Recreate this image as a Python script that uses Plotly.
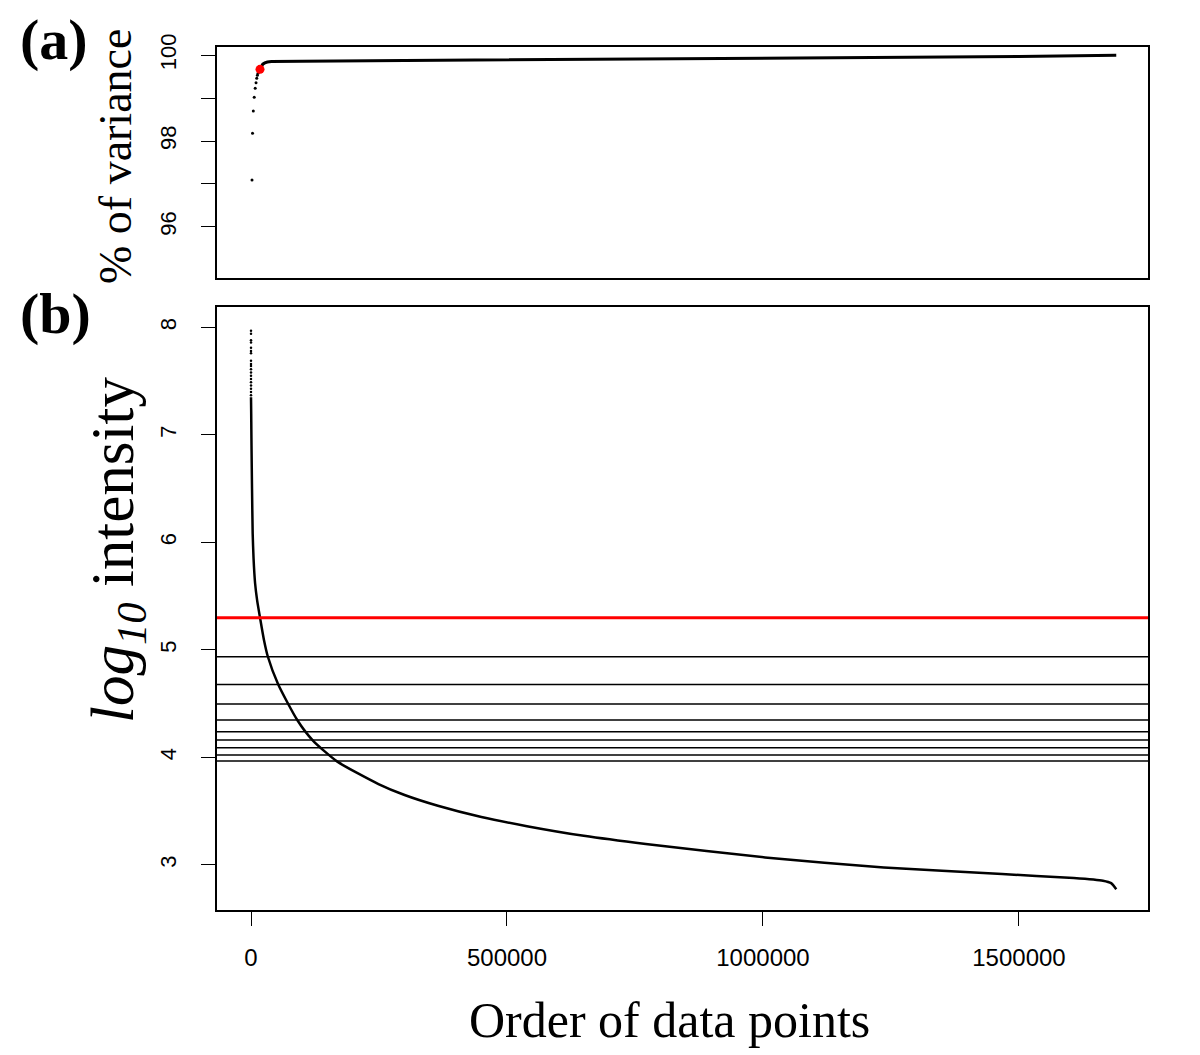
import plotly.graph_objects as go

# ---------------- data ----------------
# Panel (a): cumulative % of variance vs number of retained data points
var_dots_x = [2000, 3000, 4500, 6300, 8200, 9800, 11200, 12500, 13700, 14800, 15800, 16700]
var_dots_y = [97.09, 98.18, 98.70, 99.02, 99.23, 99.36, 99.46, 99.53, 99.58, 99.62, 99.64, 99.66]
var_sel_x = [17600]
var_sel_y = [99.67]
var_line_x = [17600, 20000, 23000, 27000, 32000, 40000, 60000, 100000, 300000, 500000,
              800000, 1000000, 1300000, 1500000, 1690000]
var_line_y = [99.67, 99.74, 99.79, 99.82, 99.84, 99.85, 99.855, 99.86, 99.875, 99.89,
              99.91, 99.93, 99.95, 99.97, 100.0]

# Panel (b): sorted log10 intensities
int_dots_x = list(range(1, 20))
int_dots_y = [7.97, 7.94, 7.88, 7.86, 7.81, 7.78, 7.76, 7.69, 7.66, 7.64, 7.61, 7.58,
              7.55, 7.52, 7.49, 7.46, 7.43, 7.40, 7.37]
int_line_x = [20, 400, 700, 1000, 2000, 3300, 5000, 8000, 12000, 17600, 25000, 33000,
              53000, 90000, 121000, 168000, 249000, 300000, 365000, 450000, 539000,
              650000, 771000, 1004000, 1236000, 1467000, 1607000, 1664000, 1680000, 1690000]
int_line_y = [7.35, 7.2, 7.05, 6.9, 6.5, 6.08, 5.85, 5.62, 5.46, 5.30, 5.1, 4.936,
              4.68, 4.35, 4.156, 3.963, 3.752, 3.65, 3.55, 3.445, 3.36,
              3.27, 3.194, 3.069, 2.976, 2.914, 2.877, 2.852, 2.83, 2.774]

threshold_red = 5.30
thresholds_black = [4.936, 4.679, 4.496, 4.348, 4.239, 4.162, 4.090, 4.022, 3.967]

x_ticks = [0, 500000, 1000000, 1500000]
x_tick_labels = ["0", "500000", "1000000", "1500000"]
ya_ticks = [96, 98, 100]
ya_tick_labels = ["96", "98", "100"]
ya_minor_ticks = [97, 99]
yb_ticks = [3, 4, 5, 6, 7, 8]
yb_tick_labels = ["3", "4", "5", "6", "7", "8"]

# ---------------- layout helpers ----------------
W, H = 1200, 1055
DX = 8.0   # page offset (horizontal)
DY = 8.0   # page offset (vertical)


def px(x):
    return (x - DX) / W


def py(y):
    return 1 - (y - DY) / H


left, right = px(217), px(1148)
a_dom = [py(278), py(47)]
b_dom = [py(910), py(307)]
xr = [-66400, 1752000]

fig = go.Figure()

fig.add_trace(go.Scatter(x=var_line_x, y=var_line_y, mode="lines",
                         line=dict(color="black", width=3), xaxis="x", yaxis="y",
                         showlegend=False))
fig.add_trace(go.Scatter(x=var_dots_x, y=var_dots_y, mode="markers",
                         marker=dict(color="black", size=3), xaxis="x", yaxis="y",
                         showlegend=False))
fig.add_trace(go.Scatter(x=var_sel_x, y=var_sel_y, mode="markers",
                         marker=dict(color="#ff0000", size=9), xaxis="x", yaxis="y",
                         showlegend=False))

fig.add_trace(go.Scatter(x=int_line_x, y=int_line_y, mode="lines",
                         line=dict(color="black", width=2.5, shape="spline", smoothing=0.6),
                         xaxis="x2", yaxis="y2", showlegend=False))
fig.add_trace(go.Scatter(x=int_dots_x, y=int_dots_y, mode="markers",
                         marker=dict(color="black", size=2.5), xaxis="x2", yaxis="y2",
                         showlegend=False))

shapes = []
for t in thresholds_black:
    shapes.append(dict(type="line", xref="x2 domain", yref="y2", x0=0, x1=1, y0=t, y1=t,
                       line=dict(color="black", width=1.5)))
shapes.append(dict(type="line", xref="x2 domain", yref="y2", x0=0, x1=1,
                   y0=threshold_red, y1=threshold_red, line=dict(color="#ff0000", width=3)))

axis_common = dict(showline=True, mirror=True, linecolor="black", linewidth=1.5,
                   showgrid=False, zeroline=False, ticks="outside", ticklen=14,
                   tickwidth=1.2, tickcolor="black", automargin=False)

serif = "Liberation Serif, Times New Roman, serif"
sans = "Liberation Sans, Arial, sans-serif"

fig.update_layout(
    width=W, height=H,
    margin=dict(l=0, r=0, t=0, b=0, autoexpand=False),
    plot_bgcolor="white", paper_bgcolor="white",
    shapes=shapes,
    xaxis=dict(domain=[left, right], range=xr, anchor="y", showticklabels=False,
               **{**axis_common, "ticks": ""}),
    yaxis=dict(domain=a_dom, range=[94.81, 100.19], anchor="x",
               tickvals=ya_ticks, ticktext=ya_tick_labels, tickangle=-90,
               tickfont=dict(family=sans, size=22, color="black"),
               ticklabelstandoff=16,
               minor=dict(tickvals=ya_minor_ticks, ticks="outside", ticklen=14,
                          tickwidth=1.2, tickcolor="black", showgrid=False),
               **axis_common),
    xaxis2=dict(domain=[left, right], range=xr, anchor="y2",
                tickvals=x_ticks, ticktext=x_tick_labels,
                tickfont=dict(family=sans, size=24, color="black"),
                ticklabelstandoff=11, **axis_common),
    yaxis2=dict(domain=b_dom, range=[2.58, 8.19], anchor="x2",
                tickvals=yb_ticks, ticktext=yb_tick_labels, tickangle=-90,
                tickfont=dict(family=sans, size=22, color="black"),
                ticklabelstandoff=16, **axis_common),
    annotations=[
        dict(text="<b>(a)</b>", x=px(18), y=py(40), xref="paper", yref="paper",
             xanchor="left", yanchor="middle", showarrow=False,
             font=dict(family=serif, size=58, color="black")),
        dict(text="<b>(b)</b>", x=px(18), y=py(313), xref="paper", yref="paper",
             xanchor="left", yanchor="middle", showarrow=False,
             font=dict(family=serif, size=58, color="black")),
        dict(text="% of variance", x=px(115), y=py(157), xref="paper", yref="paper",
             xanchor="center", yanchor="middle", textangle=-90, showarrow=False,
             font=dict(family=serif, size=46, color="black")),
        dict(text="<i>log</i><sub><i>10</i></sub> intensity", x=px(117), y=py(550),
             xref="paper", yref="paper", xanchor="center", yanchor="middle",
             textangle=-90, showarrow=False,
             font=dict(family=serif, size=61, color="black")),
        dict(text="Order of data points", x=px(669), y=py(1020), xref="paper",
             yref="paper", xanchor="center", yanchor="middle", showarrow=False,
             font=dict(family=serif, size=50, color="black")),
    ],
)

fig.write_html("out.html")
